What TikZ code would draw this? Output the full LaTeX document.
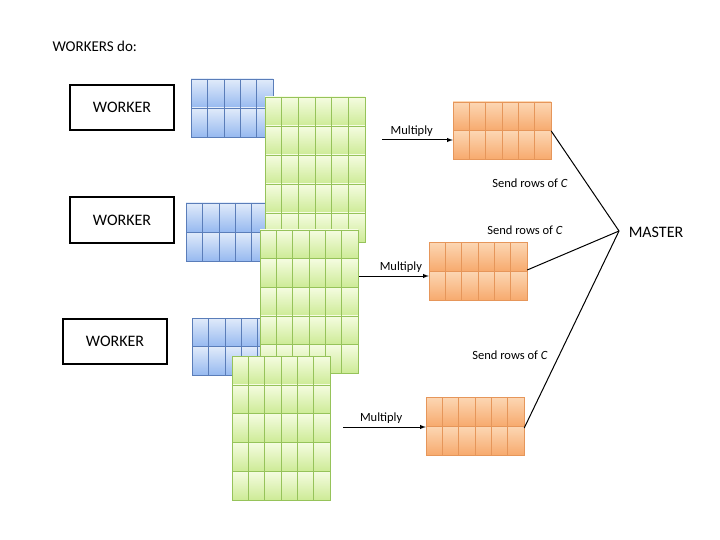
\documentclass[tikz,border=0pt]{standalone}
\usepackage{fontspec}
\setmainfont{Carlito}
\begin{document}
\begin{tikzpicture}[x=1pt,y=-1pt,
  wbox/.style={draw,line width=2pt,minimum width=104pt,minimum height=45pt,font=\fontsize{16}{18}\selectfont},
  lbl/.style={font=\fontsize{12.5}{14}\selectfont},
  arr/.style={-latex,line width=1pt},
  link/.style={line width=1pt}]
\useasboundingbox (0,0) rectangle (720,540);
\definecolor{bT}{RGB}{225,235,250}\definecolor{bB}{RGB}{150,185,240}\definecolor{bL}{RGB}{90,125,185}
\definecolor{gT}{RGB}{245,252,225}\definecolor{gB}{RGB}{205,235,150}\definecolor{gL}{RGB}{150,195,90}
\definecolor{oT}{RGB}{252,215,180}\definecolor{oB}{RGB}{247,170,110}\definecolor{oL}{RGB}{230,150,90}
% #1 name #2 x0 #3 y0 #4 x1 #5 y1 #6 cols #7 rows #8 colour prefix
\newcommand\mgrid[8]{%
  \pgfmathsetmacro\dy{(#5-#3)/#7}\pgfmathsetmacro\dx{(#4-#2)/#6}%
  \foreach \r in {1,...,#7}{%
    \shade[top color=#8T,bottom color=#8B] (#2,{#3+(\r-1)*\dy}) rectangle (#4,{#3+\r*\dy});}%
  \foreach \c in {1,...,#6}{\draw[#8L,line width=0.6pt] ({#2+\c*\dx-\dx},#3) -- ({#2+\c*\dx-\dx},#5);}%
  \foreach \r in {1,...,#7}{\draw[#8L,line width=0.6pt] (#2,{#3+\r*\dy-\dy}) -- (#4,{#3+\r*\dy-\dy});}%
  \draw[#8L,line width=0.6pt] (#2,#3) rectangle (#4,#5);%
  \node[inner sep=0,minimum width={#4-#2},minimum height={#5-#3}] (#1) at ({(#2+#4)/2},{(#3+#5)/2}) {};}
\node[anchor=west,font=\fontsize{15}{17}\selectfont] (title) at (49,46) {WORKERS do:};
\node[wbox] (w1) at (122,107.5) {WORKER};
\node[wbox] (w2) at (122,220) {WORKER};
\node[wbox] (w3) at (115,341.5) {WORKER};
\mgrid{b1}{191}{79}{273}{137}{5}{2}{b}
\mgrid{b2}{186}{203}{268}{261}{5}{2}{b}
\mgrid{b3}{192}{318}{274}{375}{5}{2}{b}
\mgrid{g1}{265}{97}{365}{242}{6}{5}{g}
\mgrid{g2}{260}{230}{358}{373}{6}{5}{g}
\mgrid{g3}{232}{356}{330}{500}{6}{5}{g}
\mgrid{o1}{453}{102}{551}{159}{6}{2}{o}
\mgrid{o2}{429}{242}{527}{300}{6}{2}{o}
\mgrid{o3}{426}{397}{524}{455}{6}{2}{o}
\node[font=\fontsize{16}{18}\selectfont] (m) at (656,232) {MASTER};
\coordinate (hub) at (619,231);
\coordinate (a1s) at (382,140); \coordinate (a2s) at (359,276); \coordinate (a3s) at (343,427);
\draw[arr] (a1s) -- (o1.west |- a1s) node[pos=0.42,above,lbl] {Multiply};
\draw[arr] (a2s) -- (o2.west |- a2s) node[pos=0.6,above,lbl] {Multiply};
\draw[arr] (a3s) -- (o3.west |- a3s) node[pos=0.46,above,lbl] {Multiply};
\draw[link] (o1.east |- 0,131) -- (hub);
\draw[link] (o2.east |- 0,270) -- (hub);
\draw[link] (o3.east |- 0,428) -- (hub);
\node[lbl] (s1) at (530,183) {Send rows of \textit{C}};
\node[lbl] (s2) at (525,230) {Send rows of \textit{C}};
\node[lbl] (s3) at (510,355) {Send rows of \textit{C}};
\end{tikzpicture}
\end{document}
